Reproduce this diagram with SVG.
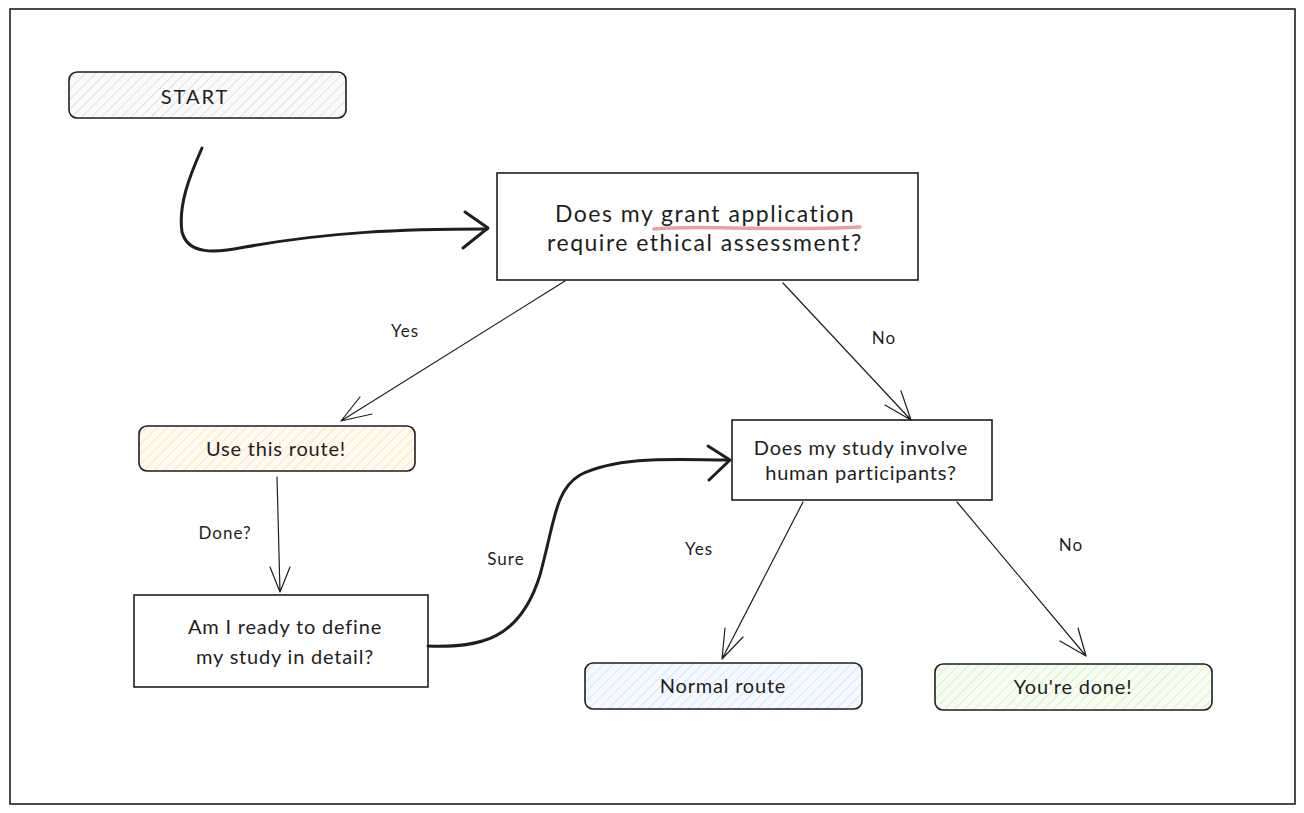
<svg xmlns="http://www.w3.org/2000/svg" width="1304" height="813" viewBox="0 0 1304 813">
<defs>
<pattern id="hGray" width="7" height="7" patternUnits="userSpaceOnUse" patternTransform="rotate(45)"><rect width="7" height="7" fill="#fafafa"/><line x1="0" y1="0" x2="0" y2="7" stroke="#cfcfcf" stroke-width="1.2"/></pattern>
<pattern id="hYellow" width="7" height="7" patternUnits="userSpaceOnUse" patternTransform="rotate(45)"><rect width="7" height="7" fill="#fffaf0"/><line x1="0" y1="0" x2="0" y2="7" stroke="#f5dcaa" stroke-width="1.4"/></pattern>
<pattern id="hBlue" width="7" height="7" patternUnits="userSpaceOnUse" patternTransform="rotate(45)"><rect width="7" height="7" fill="#f6faff"/><line x1="0" y1="0" x2="0" y2="7" stroke="#c6defa" stroke-width="1.4"/></pattern>
<pattern id="hGreen" width="7" height="7" patternUnits="userSpaceOnUse" patternTransform="rotate(45)"><rect width="7" height="7" fill="#f8fdf2"/><line x1="0" y1="0" x2="0" y2="7" stroke="#cfeab0" stroke-width="1.4"/></pattern>
</defs>
<style>
.box{fill:#fff;stroke:#1e1e1e;stroke-width:1.6}
.t{font-family:"Lato","Noto Sans",sans-serif;font-size:20px;letter-spacing:0.8px;fill:#1e1e1e;text-anchor:middle}
.big{font-size:23px;letter-spacing:1.5px}
.lbl{font-family:"Lato","Noto Sans",sans-serif;font-size:17px;letter-spacing:1px;fill:#1e1e1e;text-anchor:middle}
.thin{fill:none;stroke:#1e1e1e;stroke-width:1.2;stroke-linecap:round}
.thick{fill:none;stroke:#1e1e1e;stroke-width:3;stroke-linecap:round;stroke-linejoin:round}
</style>
<rect x="0" y="0" width="1304" height="813" fill="#fff"/>
<rect id="frame" x="10" y="9" width="1285" height="795" fill="none" stroke="#1e1e1e" stroke-width="1.6"/>

<g id="start">
<rect x="69" y="72" width="277" height="46" rx="8" fill="url(#hGray)" stroke="#1e1e1e" stroke-width="1.6"/>
<text class="t" x="195" y="104" style="letter-spacing:2px">START</text>
</g>

<g id="q1">
<rect class="box" x="497" y="173" width="421" height="107"/>
<path d="M654 229 C700 224 760 232 860 227" fill="none" stroke="#e8a0a8" stroke-width="3.5" stroke-linecap="round"/>
<text class="t big" x="705" y="222">Does my grant application</text>
<text class="t big" x="705" y="251">require ethical assessment?</text>
</g>

<g id="useRoute">
<rect x="139" y="426" width="276" height="45" rx="8" fill="url(#hYellow)" stroke="#1e1e1e" stroke-width="1.6"/>
<text class="t" x="276" y="456">Use this route!</text>
</g>

<g id="q2">
<rect class="box" x="732" y="420" width="260" height="80"/>
<text class="t" x="861" y="455">Does my study involve</text>
<text class="t" x="861" y="480">human participants?</text>
</g>

<g id="q3">
<rect class="box" x="134" y="595" width="294" height="92"/>
<text class="t" x="285" y="634">Am I ready to define</text>
<text class="t" x="285" y="664">my study in detail?</text>
</g>

<g id="normal">
<rect x="585" y="663" width="277" height="46" rx="8" fill="url(#hBlue)" stroke="#1e1e1e" stroke-width="1.6"/>
<text class="t" x="723" y="693">Normal route</text>
</g>

<g id="done">
<rect x="935" y="664" width="277" height="46" rx="8" fill="url(#hGreen)" stroke="#1e1e1e" stroke-width="1.6"/>
<text class="t" x="1073" y="694">You're done!</text>
</g>

<g id="connectors">
<path class="thick" d="M202 148 C190 175 178 205 182 232 C188 255 215 253 245 247 C330 232 400 229 487 229"/>
<path class="thick" d="M465 212 L488 228 L463 248"/>

<path class="thin" d="M565 281 L341 421 M341 421 L360 397 M341 421 L372 414"/>
<text class="lbl" x="405" y="337">Yes</text>

<path class="thin" d="M783 283 L911 420 M911 420 L901 391 M911 420 L885 405"/>
<text class="lbl" x="884" y="344">No</text>

<path class="thin" d="M277 477 L280 592 M280 592 L270 567 M280 592 L290 567"/>
<text class="lbl" x="225" y="539">Done?</text>

<path class="thick" d="M428 646 C480 648 520 640 540 575 C555 520 555 490 580 475 C620 455 680 460 728 460"/>
<path class="thick" d="M708 446 L730 460 L709 480"/>
<text class="lbl" x="506" y="565">Sure</text>

<path class="thin" d="M803 502 L722 659 M722 659 L725 628 M722 659 L743 637"/>
<text class="lbl" x="699" y="555">Yes</text>

<path class="thin" d="M957 502 L1086 656 M1086 656 L1078 628 M1086 656 L1060 641"/>
<text class="lbl" x="1071" y="551">No</text>
</g>
</svg>
